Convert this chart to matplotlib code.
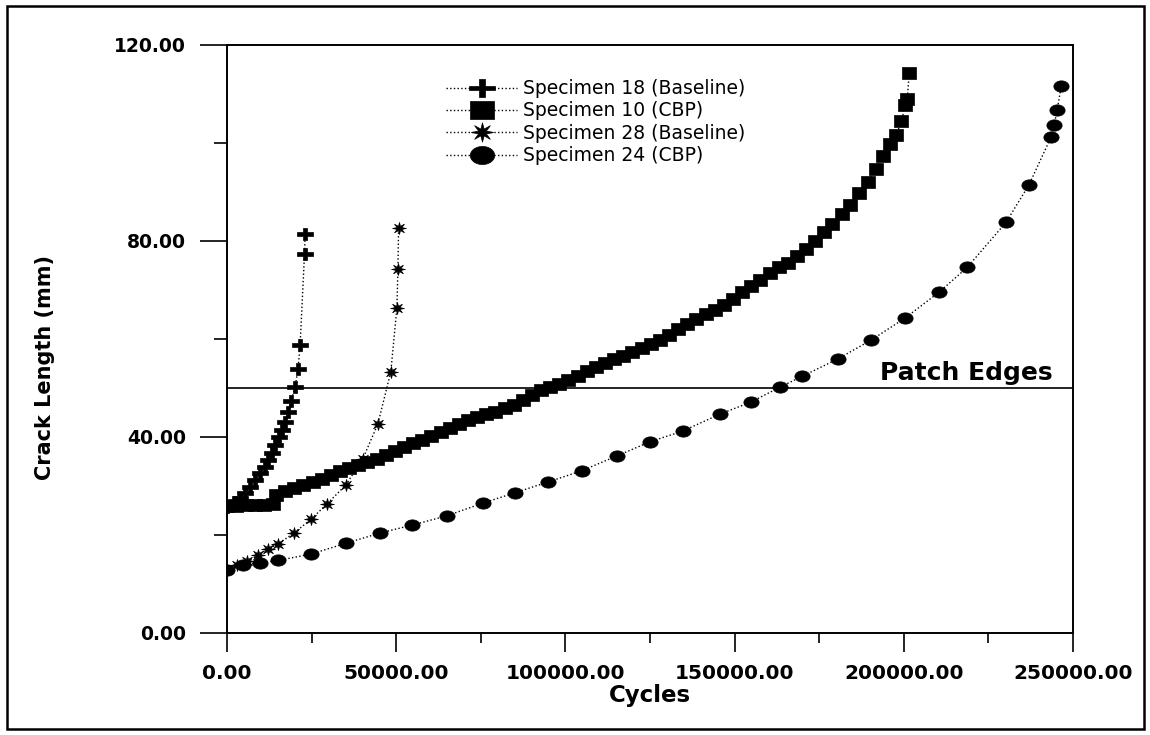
import numpy as np
import matplotlib
matplotlib.use('Agg')
import matplotlib.pyplot as plt
from matplotlib.path import Path
from matplotlib.patches import Rectangle

plt.rcParams.update({
    'font.family': 'DejaVu Sans',
    'axes.linewidth': 1.4,
})

# Specimen 18 (Baseline)
s18_cycles = [0, 900, 2400, 3800, 5300, 6800, 8300, 9700, 11200, 12100, 13300,
              14200, 15400, 16200, 17100, 18000, 18900, 20100, 21000, 21600,
              22900, 23100]
s18_crack = [25.7, 26.1, 26.7, 27.5, 28.6, 29.8, 31.2, 32.6, 33.9, 35.3, 36.7,
             38.4, 40.0, 41.4, 43.1, 45.1, 47.3, 50.2, 53.9, 58.8,
             77.3, 81.4]

# Specimen 10 (CBP)
s10_cycles = [0, 2800, 5600, 8400, 11000, 13500, 14500, 17200, 19900, 22600,
              25300, 28000, 30700, 33400, 36100, 38800, 41500, 44200, 46900,
              49600, 52300, 55000, 57700, 60400, 63100, 65800, 68500, 71200,
              73900, 76600, 79300, 82000, 84700, 87400, 90100, 92800, 95500,
              98200, 100900, 103600, 106300, 109000, 111700, 114400, 117100,
              119800, 122500, 125200, 127900, 130600, 133300, 136000, 138700,
              141400, 144100, 146800, 149500, 152200, 154900, 157600, 160300,
              163000, 165700, 168400, 171000, 173700, 176300, 178900, 181600,
              184200, 186800, 189300, 191700, 193900, 195900, 197700, 199300,
              200400, 201000, 201600]
s10_crack = [26.0, 26.0, 26.1, 26.1, 26.2, 26.3, 28.2, 28.9, 29.6, 30.2,
             30.8, 31.5, 32.2, 33.0, 33.7, 34.3, 34.9, 35.6, 36.4,
             37.2, 37.9, 38.7, 39.4, 40.2, 41.0, 41.9, 42.7, 43.4,
             44.1, 44.6, 45.2, 45.9, 46.6, 47.5, 48.5, 49.6, 50.2,
             50.9, 51.6, 52.5, 53.4, 54.3, 55.2, 55.9, 56.6,
             57.3, 58.2, 59.0, 59.8, 60.9, 62.0, 63.1, 64.1,
             65.0, 65.9, 67.0, 68.2, 69.5, 70.8, 72.1, 73.4,
             74.6, 75.6, 76.9, 78.3, 79.9, 81.8, 83.5, 85.5,
             87.4, 89.7, 92.0, 94.6, 97.4, 99.8, 101.6, 104.4,
             107.8, 109.0, 114.3]

# Specimen 28 (Baseline)
s28_cycles = [0, 3000, 5900, 9200, 12100, 15100, 19800, 24800, 29500, 35100,
              40100, 44600, 48400, 50200, 50500, 50700]
s28_crack = [12.9, 13.9, 14.6, 15.9, 17.1, 18.2, 20.4, 23.2, 26.3, 30.2,
             35.5, 42.7, 53.3, 66.3, 74.3, 82.7]

# Specimen 24 (CBP)
s24_cycles = [0, 4700, 9700, 15100, 24800, 35100, 45200, 54600, 64900, 75600,
              85000, 94800, 104800, 115100, 124900, 134600, 145800, 154700,
              163500, 170000, 180400, 190400, 200400, 210500, 218700, 230200,
              237000, 243500, 244400, 245300, 246500]
s24_crack = [12.9, 13.9, 14.3, 14.8, 16.1, 18.3, 20.4, 22.0, 23.9, 26.5,
             28.6, 30.8, 33.1, 36.1, 39.0, 41.2, 44.7, 47.1,
             50.2, 52.4, 55.9, 59.8, 64.3, 69.6, 74.6, 83.8,
             91.5, 101.2, 103.7, 106.7, 111.6]

labels = ['Specimen 18 (Baseline)', 'Specimen 10 (CBP)',
          'Specimen 28 (Baseline)', 'Specimen 24 (CBP)']

x_ticks = [0, 50000, 100000, 150000, 200000, 250000]
x_minor = [25000, 75000, 125000, 175000, 225000]
y_ticks = [0, 40, 80, 120]
y_minor = [20, 60, 100]
patch_edge = 50.0


def stretched(verts, sx):
    # markers in the scan are wider than tall
    verts = np.asarray(verts, dtype=float)
    verts[:, 0] *= sx
    return Path(verts, closed=True)


a = 0.26
plus_marker = stretched([(-a, 1), (a, 1), (a, a), (1, a), (1, -a), (a, -a),
                         (a, -1), (-a, -1), (-a, -a), (-1, -a), (-1, a),
                         (-a, a), (-a, 1)], 1.35)
square_marker = stretched([(-1, -1), (1, -1), (1, 1), (-1, 1), (-1, -1)], 1.3)
t = np.linspace(0, 2 * np.pi, 41)
circle_marker = stretched(np.column_stack([np.cos(t), np.sin(t)]), 1.35)
ang = np.arange(16) * np.pi / 8 + np.pi / 2
rad = np.where(np.arange(16) % 2 == 0, 1.0, 0.38)
star_pts = np.column_stack([rad * np.cos(ang), rad * np.sin(ang)])
star_marker = stretched(np.vstack([star_pts, star_pts[:1]]), 1.15)

fig = plt.figure(figsize=(11.5, 7.35), dpi=100)
ax = fig.add_axes([0.1974, 0.1388, 0.7357, 0.80])

line_kw = dict(color='black', linestyle=':', linewidth=1.0,
               markerfacecolor='black', markeredgecolor='black',
               markeredgewidth=0.5)
ax.plot(s18_cycles, s18_crack, marker=plus_marker, markersize=11.5,
        label=labels[0], **line_kw)
ax.plot(s10_cycles, s10_crack, marker=square_marker, markersize=10.8,
        label=labels[1], **line_kw)
ax.plot(s28_cycles, s28_crack, marker=star_marker, markersize=10,
        label=labels[2], **line_kw)
ax.plot(s24_cycles, s24_crack, marker=circle_marker, markersize=11,
        label=labels[3], **line_kw)

ax.axhline(patch_edge, color='black', linewidth=1.2)
ax.text(244000, patch_edge + 0.6, 'Patch Edges', ha='right', va='bottom',
        fontsize=18, fontweight='bold')

ax.set_xlim(0, 250000)
ax.set_ylim(0, 120)
ax.set_xticks(x_ticks)
ax.set_xticks(x_minor, minor=True)
ax.set_yticks(y_ticks)
ax.set_yticks(y_minor, minor=True)
ax.set_xticklabels([f'{v:.2f}' for v in x_ticks])
ax.set_yticklabels([f'{v:.2f}' for v in y_ticks])
ax.tick_params(axis='both', which='both', direction='out', width=1.2)
ax.tick_params(axis='x', which='major', length=14, pad=8, labelsize=14.5)
ax.tick_params(axis='x', which='minor', length=7)
ax.tick_params(axis='y', which='major', length=19.5, pad=10, labelsize=13.5)
ax.tick_params(axis='y', which='minor', length=9.5)
for lab in ax.get_xticklabels() + ax.get_yticklabels():
    lab.set_fontweight('bold')

ax.set_xlabel('Cycles', fontsize=16.5, fontweight='bold', labelpad=1)
fig.text(0.039, 0.50, 'Crack Length (mm)', rotation=90, ha='center',
         va='center', fontsize=15, fontweight='bold')

leg = ax.legend(loc='upper left', bbox_to_anchor=(0.259, 0.942),
                frameon=False, fontsize=13.5, markerscale=1.6,
                handlelength=3.8, handletextpad=0.3, labelspacing=0.18,
                borderpad=0, borderaxespad=0, numpoints=1)

fig.patches.append(Rectangle((0.006, 0.008), 0.989, 0.984,
                             transform=fig.transFigure, fill=False,
                             edgecolor='black', linewidth=1.8))

fig.savefig('out.png', dpi=100)
